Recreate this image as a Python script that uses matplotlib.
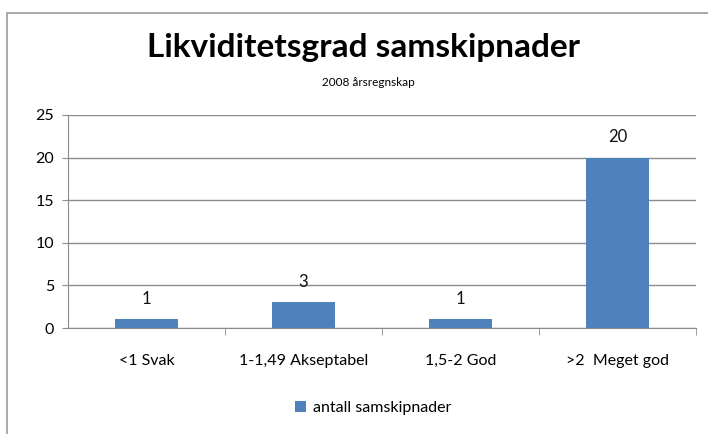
import matplotlib.pyplot as plt
from matplotlib.patches import Rectangle

categories = ["<1 Svak", "1-1,49 Akseptabel", "1,5-2 God", ">2  Meget god"]
antall = [1, 3, 1, 20]
yticks = [0, 5, 10, 15, 20, 25]

plt.rcParams['font.family'] = ['Lato', 'DejaVu Sans']
bar_color = "#4F81BD"
grid_color = "#8C8C8C"

fig = plt.figure(figsize=(7.08, 4.34), dpi=100)
fig.patches.append(Rectangle((7 / 708, -0.1), 1.1, 1.1 - 13 / 434, transform=fig.transFigure,
                             fill=False, edgecolor="#9A9A9A", linewidth=1.2))

ax = fig.add_axes([68 / 708, 1 - 328 / 434, 628 / 708, 213 / 434])
x = list(range(len(categories)))
bars = ax.bar(x, antall, width=0.4, color=bar_color, label="antall samskipnader", zorder=3)

for xi, v in zip(x, antall):
    ax.annotate(str(v), (xi, v), xytext=(0, 9), textcoords="offset points",
                ha="center", va="bottom", fontsize=12, color="#111111")

ax.set_xlim(-0.5, len(categories) - 0.5)
ax.set_ylim(0, 25)
ax.set_yticks(yticks)
ax.tick_params(axis="y", labelsize=11.5, length=4, color=grid_color, pad=6)
ax.yaxis.grid(True, color=grid_color, linewidth=1, zorder=0)

ax.set_xticks(x)
ax.set_xticklabels(categories, fontsize=11.5)
ax.tick_params(axis="x", length=0, pad=19)
ax.set_xticks([i + 0.5 for i in x], minor=True)
ax.tick_params(axis="x", which="minor", length=5, color=grid_color)

for s in ["top", "right"]:
    ax.spines[s].set_visible(False)
for s in ["left", "bottom"]:
    ax.spines[s].set_color(grid_color)

fig.text(0.514, 1 - 48 / 434, "Likviditetsgrad samskipnader", ha="center", va="center",
         fontsize=24, fontweight="bold")
fig.text(0.52, 1 - 82 / 434, "2008 årsregnskap", ha="center", va="center", fontsize=8.5)

fig.legend(handles=[bars], labels=["antall samskipnader"], loc="center",
           bbox_to_anchor=(0.527, 1 - 408 / 434), frameon=False, fontsize=11.5,
           handlelength=0.7, handleheight=0.7, handletextpad=0.4)

fig.savefig("out.png", dpi=100)
